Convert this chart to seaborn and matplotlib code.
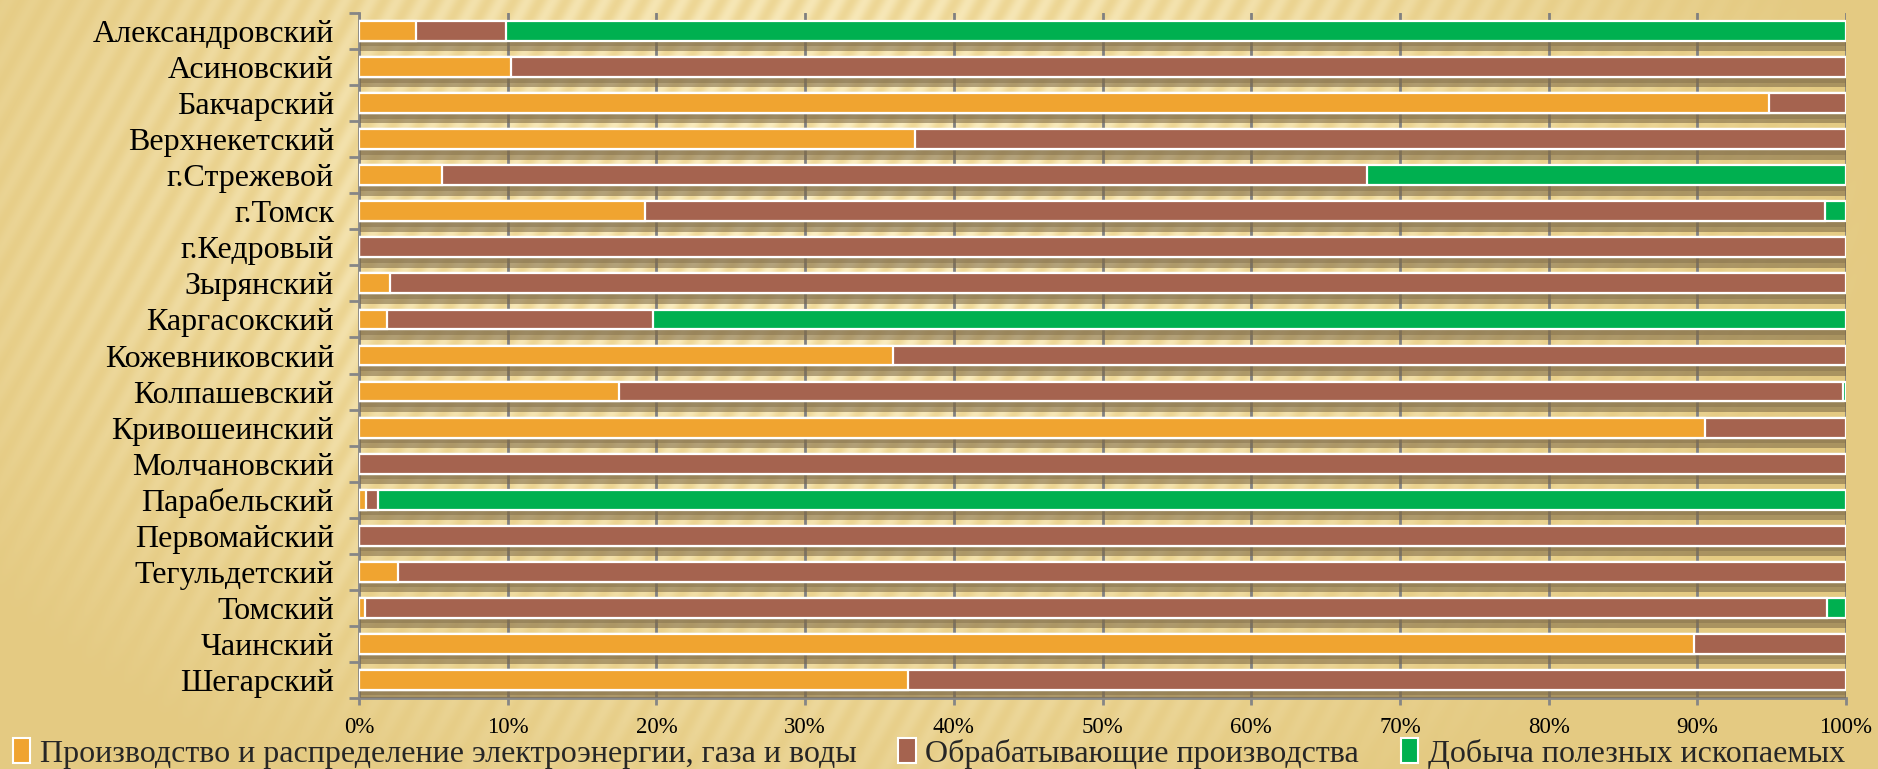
import numpy as np
import pandas as pd
import matplotlib
matplotlib.use("Agg")
import matplotlib.pyplot as plt
import matplotlib.patheffects as pe
from matplotlib.patches import Patch
from matplotlib.ticker import MultipleLocator, FixedLocator
import seaborn as sns

regions = ["Александровский", "Асиновский", "Бакчарский", "Верхнекетский", "г.Стрежевой",
           "г.Томск", "г.Кедровый", "Зырянский", "Каргасокский", "Кожевниковский",
           "Колпашевский", "Кривошеинский", "Молчановский", "Парабельский", "Первомайский",
           "Тегульдетский", "Томский", "Чаинский", "Шегарский"]
energy = [3.8, 10.2, 94.8, 37.4, 5.6, 19.2, 0.0, 2.1, 1.9, 35.9,
          17.5, 90.5, 0.0, 0.5, 0.0, 2.6, 0.4, 89.8, 36.9]
manufacturing = [6.1, 89.8, 5.2, 62.6, 62.2, 79.4, 100.0, 97.9, 17.9, 64.1,
                 82.3, 9.5, 100.0, 0.8, 100.0, 97.4, 98.3, 10.2, 63.1]
mining = [90.1, 0.0, 0.0, 0.0, 32.2, 1.4, 0.0, 0.0, 80.2, 0.0,
          0.2, 0.0, 0.0, 98.7, 0.0, 0.0, 1.3, 0.0, 0.0]
series_names = ["Производство и распределение электроэнергии, газа и воды",
                "Обрабатывающие производства",
                "Добыча полезных ископаемых"]
colors = ["#F0A430", "#A5634F", "#00B050"]

df = pd.DataFrame({"region": regions, "energy": energy,
                   "manufacturing": manufacturing, "mining": mining})
df["c1"] = df["energy"]
df["c2"] = df["energy"] + df["manufacturing"]
df["c3"] = df["c2"] + df["mining"]

sns.set_theme(style="white")
plt.rcParams["font.family"] = ["Liberation Serif", "DejaVu Serif"]

W, H = 1878, 769
fig = plt.figure(figsize=(W / 100, H / 100), dpi=100)

# slide background texture
bg = fig.add_axes([0, 0, 1, 1], zorder=-10)
bg.axis("off")
yy, xx = np.mgrid[0:H, 0:W]
stripe = 0.5 + 0.5 * np.sin(2 * np.pi * (xx + 0.55 * yy) / 26.0)
d = np.sqrt(((xx - W * 0.45) / (W * 0.55)) ** 2 + ((yy - H * 0.3) / (H * 0.85)) ** 2)
d = np.clip(d, 0, 1) ** 1.5
light = np.array([251, 238, 195]) / 255
dark = np.array([240, 218, 155]) / 255
edge = np.array([228, 202, 130]) / 255
base = light[None, None, :] * stripe[..., None] + dark[None, None, :] * (1 - stripe[..., None])
img = base * (1 - d[..., None]) + edge[None, None, :] * d[..., None]
bg.imshow(img, aspect="auto", extent=[0, 1, 0, 1], origin="upper")

ax = fig.add_axes([359 / W, 1 - 698 / H, (1846 - 359) / W, (698 - 13) / H])
ax.set_facecolor("none")

for i, (col, c) in enumerate(zip(["c3", "c2", "c1"], colors[::-1])):
    n0 = len(ax.patches)
    sns.barplot(data=df, y="region", x=col, color=c, orient="h", width=0.55,
                saturation=1, edgecolor="white", linewidth=1.6, ax=ax, zorder=3)
    if i == 0:
        for p in ax.patches[n0:]:
            p.set_path_effects([
                pe.SimplePatchShadow(offset=(0.5, -4), shadow_rgbFace="#8a7752", alpha=0.45),
                pe.SimplePatchShadow(offset=(0.5, -7.5), shadow_rgbFace="#7a6644", alpha=0.55),
                pe.Normal()])

ax.set_xlim(0, 100)
ax.set_ylim(len(regions) - 0.5, -0.5)
ax.xaxis.set_major_locator(MultipleLocator(10))
ax.set_xticklabels([f"{v:.0f}%" for v in ax.get_xticks()])
ax.set_xlabel("")
ax.set_ylabel("")
ax.grid(axis="x", color="#808080", linewidth=2, zorder=0)
ax.grid(axis="y", visible=False)
ax.set_axisbelow(True)
for s in ["top", "right"]:
    ax.spines[s].set_visible(False)
for s in ["left", "bottom"]:
    ax.spines[s].set_color("#868686")
    ax.spines[s].set_linewidth(2)
ax.yaxis.set_minor_locator(FixedLocator(np.arange(-0.5, len(regions), 1)))
ax.tick_params(axis="y", which="major", length=0, labelsize=23, pad=18, colors="black")
ax.tick_params(axis="y", which="minor", length=7, width=2, color="#868686", left=True)
ax.tick_params(axis="x", which="major", length=5, width=2, color="#868686", bottom=True,
               labelsize=16.5, pad=9, labelcolor="black")

handles = [Patch(facecolor=c, edgecolor="white", linewidth=1.5) for c in colors]
fig.legend(handles, series_names, loc="lower left", bbox_to_anchor=(0.0, -0.016), ncol=3,
           frameon=False, fontsize=23, handlelength=0.55, handleheight=0.8,
           handletextpad=0.3, columnspacing=1.3, borderaxespad=0)

fig.savefig("out.png", dpi=100)
